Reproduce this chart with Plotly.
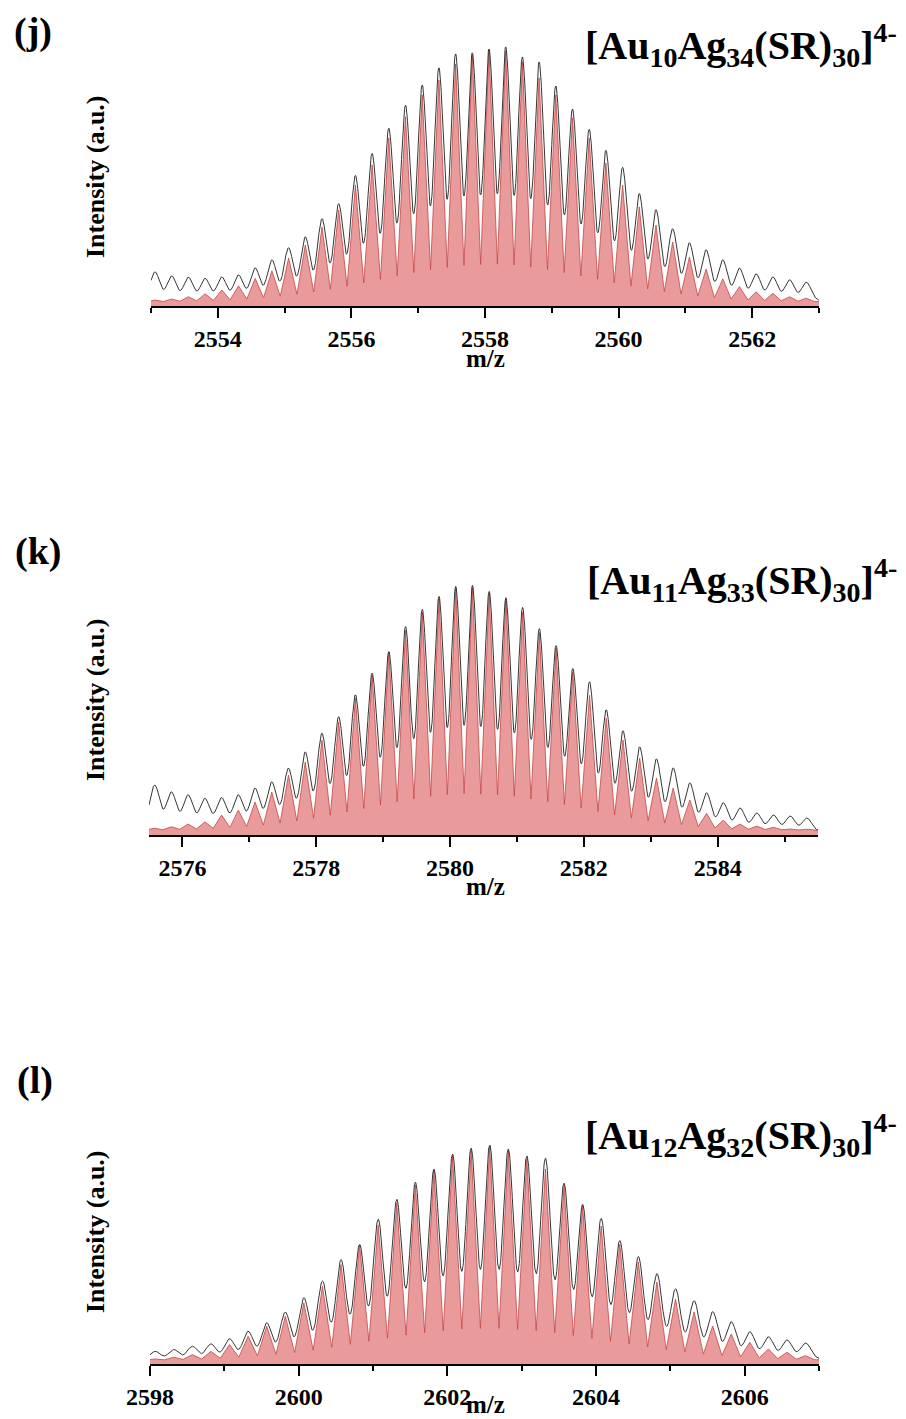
import numpy as np
import plotly.graph_objects as go

# page is 906x1419; the html body has an 8px margin, so the figure is placed at (8, 8)
PAGE_W, PAGE_H = 906, 1419
OFF = 8
W, H = PAGE_W - OFF, PAGE_H - OFF

# ---------------- data (relative intensity, % of panel maximum) ----------------
PEAK_SPACING = 0.25  # m/z spacing of isotope peaks (z = 4)

# panel (j)  [Au10Ag34(SR)30]4-
j_xrange = [2553, 2563]
j_first_peak = 2553.06
j_sim = [2.3, 2.7, 3.6, 4.7, 6.2, 7.8, 10.7, 13.6, 18.6, 23.6, 30.6, 37.2, 46.9, 54.7, 65.1,
         73.3, 81.8, 87.6, 93.8, 97.3, 99.2, 98.8, 94.6, 88.4, 81.8, 72.9, 65.1, 55.4, 46.9,
         38.4, 31.4, 24.8, 19.0, 14.3, 10.5, 7.5, 5.5, 4.9, 3.6, 3.0]
j_exp = [13.2, 11.6, 11.1, 10.7, 11.2, 12.0, 14.7, 17.8, 22.5, 26.7, 33.7, 39.5, 50.4, 58.9,
         68.6, 77.5, 85.3, 91.9, 97.3, 97.7, 99.2, 100.0, 96.1, 94.2, 84.9, 76.0, 68.2, 60.1,
         53.5, 43.4, 37.2, 29.8, 24.4, 21.7, 17.8, 14.6, 12.4, 11.2, 10.1, 9.2]
j_exp_background = [2.1, 2.1]
j_sim_floor = 1.6
j_ticks = [2554, 2556, 2558, 2560, 2562]

# panel (k)  [Au11Ag33(SR)30]4-
k_xrange = [2575.5, 2585.5]
k_first_peak = 2575.585
k_sim = [2.7, 3.3, 4.4, 5.3, 8.0, 10.0, 13.3, 17.3, 24.1, 29.3, 38.2, 45.4, 55.0, 64.3, 73.5,
         82.3, 89.6, 95.2, 99.2, 99.6, 97.2, 95.6, 89.6, 81.5, 75.1, 65.5, 56.2, 47.0, 38.2,
         30.9, 22.9, 18.9, 14.1, 8.7, 6.0, 4.4, 3.6, 3.1, 2.4, 2.3]
k_exp = [20.1, 17.3, 16.1, 14.7, 15.0, 16.1, 18.8, 21.3, 26.8, 33.3, 40.8, 47.4, 56.2, 64.9,
         73.5, 83.5, 90.4, 95.6, 99.6, 100.0, 97.6, 94.8, 91.2, 82.7, 75.9, 66.7, 61.4, 50.2,
         41.8, 35.3, 30.5, 26.9, 20.9, 16.9, 12.9, 10.8, 8.8, 8.0, 7.6, 6.8]
k_exp_background = [4.4, 1.5]
k_sim_floor = 2.0
k_ticks = [2576, 2578, 2580, 2582, 2584]

# panel (l)  [Au12Ag32(SR)30]4-
l_xrange = [2598, 2607]
l_first_peak = 2598.07
l_sim = [2.3, 3.1, 4.3, 5.8, 8.9, 12.7, 17.3, 21.9, 28.0, 35.6, 45.6, 54.6, 63.8, 73.9, 82.1,
         88.5, 95.4, 97.7, 99.5, 97.7, 94.0, 89.4, 81.7, 72.5, 63.3, 55.0, 46.8, 37.6, 29.8,
         23.9, 17.4, 13.8, 10.0, 6.9, 5.4, 3.8]
l_exp = [5.8, 6.6, 8.1, 9.2, 11.5, 15.0, 18.8, 23.7, 30.3, 37.9, 47.7, 54.6, 66.1, 75.2, 83.0,
         89.0, 95.9, 98.6, 100.0, 98.2, 95.0, 94.0, 82.6, 72.9, 66.5, 56.4, 49.1, 41.3, 34.4,
         28.9, 23.9, 19.3, 14.7, 12.4, 11.0, 9.6]
l_exp_background = [1.9, 2.3]
l_sim_floor = 1.8
l_ticks = [2598, 2600, 2602, 2604, 2606]

formulas = ["[Au<sub>10</sub>Ag<sub>34</sub>(SR)<sub>30</sub>]<sup>4-</sup>",
            "[Au<sub>11</sub>Ag<sub>33</sub>(SR)<sub>30</sub>]<sup>4-</sup>",
            "[Au<sub>12</sub>Ag<sub>32</sub>(SR)<sub>30</sub>]<sup>4-</sup>"]
panel_letters = ["(j)", "(k)", "(l)"]

# ---------------- line-shape parameters ----------------
SIM_VALLEY_FRACTION = 0.15   # valley depth of the simulated envelope
EXP_SIGMA = 0.071            # gaussian width of experimental peaks (m/z)

# ---------------- layout geometry (page pixels) ----------------
panels = [
    dict(xr=j_xrange, p0=j_first_peak, sim=j_sim, exp=j_exp, bg=j_exp_background,
         floor=j_sim_floor, ticks=j_ticks, xpx=(151, 819), base=306, top=35,
         letter_xy=(33, 32), formula_y=45, ytitle_y=177, mz_y=358),
    dict(xr=k_xrange, p0=k_first_peak, sim=k_sim, exp=k_exp, bg=k_exp_background,
         floor=k_sim_floor, ticks=k_ticks, xpx=(149, 818), base=835, top=574,
         letter_xy=(38, 551), formula_y=580, ytitle_y=700, mz_y=887),
    dict(xr=l_xrange, p0=l_first_peak, sim=l_sim, exp=l_exp, bg=l_exp_background,
         floor=l_sim_floor, ticks=l_ticks, xpx=(150, 819), base=1364, top=1135,
         letter_xy=(35, 1080), formula_y=1135, ytitle_y=1232, mz_y=1404),
]


def px(xp):
    return (xp - OFF) / W


def py(yp):
    return 1 - (yp - OFF) / H


SERIF = "Liberation Serif"
fig = go.Figure()
annotations = []

for i, p in enumerate(panels):
    n = i + 1
    xa = "x" if n == 1 else f"x{n}"
    ya = "y" if n == 1 else f"y{n}"
    peaks = p["p0"] + PEAK_SPACING * np.arange(len(p["sim"]))
    sim = np.array(p["sim"], dtype=float)
    exp = np.array(p["exp"], dtype=float)

    # simulated: straight-line envelope through peak tips and valleys
    fl = p["floor"]
    amp = np.clip(sim - fl, 0, None)
    xs, ys = [], []
    prev = amp[0]
    for xk, ak, hk in zip(peaks, amp, sim):
        xs.append(xk - PEAK_SPACING / 2)
        ys.append(fl + SIM_VALLEY_FRACTION * 0.5 * (prev + ak))
        xs.append(xk)
        ys.append(hk)
        prev = ak
    xs.append(peaks[-1] + PEAK_SPACING / 2)
    ys.append(fl + SIM_VALLEY_FRACTION * amp[-1] * 0.5)
    xs = [p["xr"][0] - 0.5] + xs + [p["xr"][1] + 0.5]
    ys = [fl] + ys + [fl]
    fig.add_trace(go.Scatter(x=xs, y=ys, mode="lines", fill="tozeroy",
                             fillcolor="rgb(233,155,155)",
                             line=dict(color="rgb(196,70,70)", width=0.8),
                             xaxis=xa, yaxis=ya, showlegend=False, hoverinfo="skip"))

    # experimental: gaussian peaks on a linear background
    xg = np.linspace(p["xr"][0], p["xr"][1], 2001)
    bg0, bg1 = p["bg"]
    bgx = bg0 + (bg1 - bg0) * (xg - xg[0]) / (xg[-1] - xg[0])
    bgp = bg0 + (bg1 - bg0) * (peaks - xg[0]) / (xg[-1] - xg[0])
    a = np.clip(exp - bgp, 0, None)
    yg = bgx + (a[None, :] * np.exp(-(xg[:, None] - peaks[None, :]) ** 2
                                    / (2 * EXP_SIGMA ** 2))).sum(axis=1)
    fig.add_trace(go.Scatter(x=xg, y=yg, mode="lines",
                             line=dict(color="rgb(30,30,30)", width=0.9),
                             xaxis=xa, yaxis=ya, showlegend=False, hoverinfo="skip"))

    x0, x1 = p["xpx"]
    base, top = p["base"], p["top"]
    xdom = [px(x0), px(x1)]
    ydom = [py(base), py(top)]
    fig.update_layout(**{
        ("xaxis" if n == 1 else f"xaxis{n}"): dict(
            domain=xdom, anchor=ya, range=p["xr"], showgrid=False, zeroline=False,
            automargin=False,
            showline=True, linecolor="black", linewidth=1.6, mirror=False,
            tickmode="array", tickvals=p["ticks"], ticktext=[str(t) for t in p["ticks"]],
            ticks="outside", ticklen=10, tickwidth=1.5, tickcolor="black",
            minor=dict(tickmode="linear", tick0=p["ticks"][0] - 1, dtick=1, ticks="outside",
                       ticklen=5, tickwidth=1.5, tickcolor="black", showgrid=False),
            tickfont=dict(family=SERIF, size=24, color="black", weight="bold"),
        ),
        ("yaxis" if n == 1 else f"yaxis{n}"): dict(
            domain=ydom, anchor=xa, range=[0, 105], visible=False, fixedrange=True,
            automargin=False, showgrid=False, zeroline=False,
        ),
    })

    # annotations
    lx, lyy = p["letter_xy"]
    annotations.append(dict(text="<b>" + panel_letters[i] + "</b>", x=px(lx), y=py(lyy),
                            xref="paper", yref="paper", showarrow=False,
                            xanchor="center", yanchor="middle",
                            font=dict(family=SERIF, size=38, color="black")))
    annotations.append(dict(text="<b>" + formulas[i] + "</b>", x=px(899),
                            y=py(p["formula_y"]), xref="paper", yref="paper",
                            showarrow=False, xanchor="right", yanchor="middle",
                            font=dict(family=SERIF, size=40, color="black")))
    annotations.append(dict(text="<b>Intensity (a.u.)</b>", x=px(95),
                            y=py(p["ytitle_y"]), xref="paper", yref="paper",
                            showarrow=False, textangle=-90, xanchor="center",
                            yanchor="middle",
                            font=dict(family=SERIF, size=26, color="black")))
    annotations.append(dict(text="<b>m/z</b>", x=px(485), y=py(p["mz_y"]),
                            xref="paper", yref="paper", showarrow=False,
                            xanchor="center", yanchor="middle",
                            font=dict(family=SERIF, size=25, color="black")))

fig.update_layout(template="none", width=W, height=H,
                  margin=dict(l=0, r=0, t=0, b=0, pad=0, autoexpand=False),
                  paper_bgcolor="white", plot_bgcolor="white",
                  annotations=annotations, showlegend=False)

fig.write_html("out.html")
